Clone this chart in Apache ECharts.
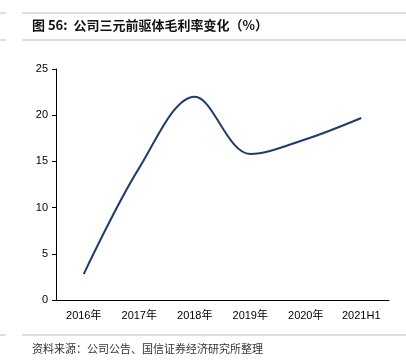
<!DOCTYPE html>
<html><head><meta charset="utf-8">
<script src="https://cdn.jsdelivr.net/npm/echarts@6/dist/echarts.min.js"></script>
<style>html,body{margin:0;padding:0;background:#fff}#c{width:406px;height:363px}</style>
</head><body><div id="c"></div>
<script>
const categories = ['2016年','2017年','2018年','2019年','2020年','2021H1'];
const margin = [2.8, 14.3, 22.0, 15.8, 17.4, 19.7];
const yTicks = [0, 5, 10, 15, 20, 25];

const chart = echarts.init(document.getElementById('c'), null, {renderer:'canvas'});
const font = '"Liberation Sans", Arial, "Noto Sans CJK SC", sans-serif';
chart.setOption({
  animation:false,
  backgroundColor:'#fff',
  graphic:[
    {type:'line', shape:{x1:0,y1:13,x2:6,y2:13}, style:{stroke:'#bfbfbf',lineWidth:1}},
    {type:'line', shape:{x1:22,y1:13,x2:406,y2:13}, style:{stroke:'#bfbfbf',lineWidth:1}},
    {type:'line', shape:{x1:0,y1:40,x2:6,y2:40}, style:{stroke:'#bfbfbf',lineWidth:1}},
    {type:'line', shape:{x1:22,y1:40,x2:406,y2:40}, style:{stroke:'#bfbfbf',lineWidth:1}},
    {type:'line', shape:{x1:0,y1:335,x2:6,y2:335}, style:{stroke:'#bfbfbf',lineWidth:1}},
    {type:'line', shape:{x1:22,y1:335,x2:406,y2:335}, style:{stroke:'#bfbfbf',lineWidth:1}},
    {type:'text', left:32, top:19, style:{text:'图 56:  公司三元前驱体毛利率变化（%）', font:'bold 13px "Noto Sans CJK SC", sans-serif', fill:'#111'}},
    {type:'text', left:32, top:343, style:{text:'资料来源：公司公告、国信证券经济研究所整理', font:'11px "Noto Sans CJK SC", sans-serif', fill:'#333'}}
  ],
  grid:{left:56, right:17, top:69, bottom:63},
  xAxis:{
    type:'category', data:categories, boundaryGap:true,
    axisLine:{lineStyle:{color:'#000',width:1}},
    axisTick:{show:false},
    axisLabel:{color:'#000', fontSize:11, fontFamily:font, margin:10}
  },
  yAxis:{
    type:'value', min:yTicks[0], max:yTicks[yTicks.length-1], interval:5,
    axisLine:{show:true, lineStyle:{color:'#000',width:1}},
    axisTick:{show:true, length:4, lineStyle:{color:'#000'}},
    splitLine:{show:false},
    axisLabel:{color:'#000', fontSize:11, fontFamily:font, margin:8}
  },
  series:[{
    type:'line', data:margin, smooth:0.35, symbol:'none',
    lineStyle:{color:'#1f3d6a', width:2}
  }]
});
</script></body></html>
